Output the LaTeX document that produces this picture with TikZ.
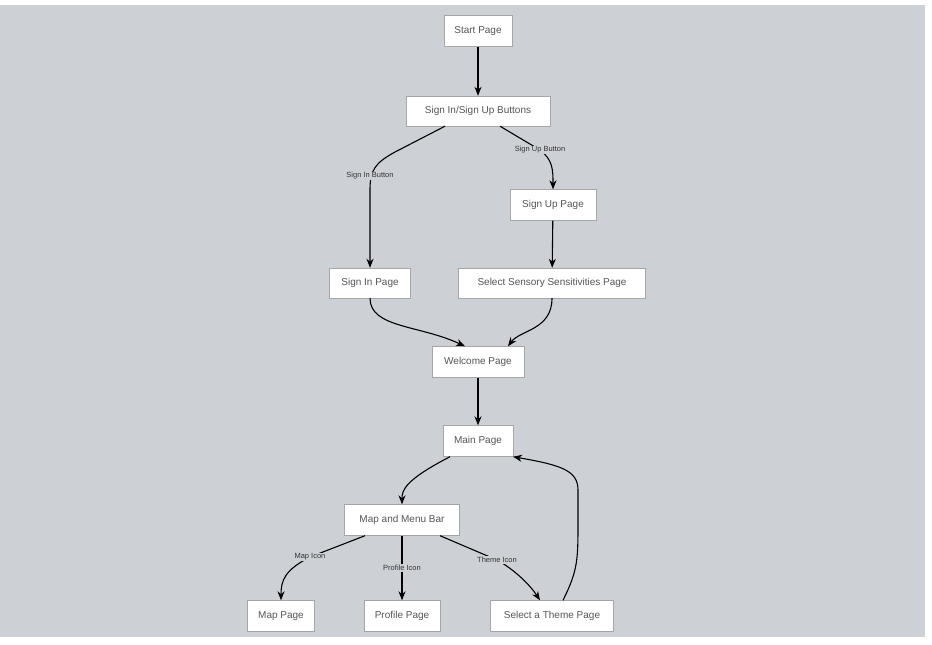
\documentclass[tikz,border=0pt]{standalone}
\usepackage{fontspec}
\setmainfont{Liberation Sans}
\usetikzlibrary{arrows.meta}
\definecolor{bg}{HTML}{CDD1D6}
\definecolor{txt}{HTML}{555555}
\begin{document}
\begin{tikzpicture}[x=1pt,y=-1pt,
  box/.style={draw=gray!70,fill=white,minimum height=31pt,inner sep=0pt,text=txt,font=\fontsize{10}{12}\selectfont},
  e/.style={draw=black,line width=1.1pt,-{Stealth[length=9pt,width=7pt]}},
  lab/.style={fill=bg,inner sep=1pt,text=black!80,font=\fontsize{7.5}{9}\selectfont}]
\useasboundingbox (0,0) rectangle (932,645);
\fill[bg] (0,5) rectangle (925,637);
\node[box,minimum width=68pt] (start) at (478,31) {Start Page};
\node[box,minimum width=144pt,minimum height=30pt] (btn) at (478,111) {Sign In/Sign Up Buttons};
\node[box,minimum width=86pt] (sup) at (553,205) {Sign Up Page};
\node[box,minimum width=81pt,minimum height=30pt] (sin) at (370,283) {Sign In Page};
\node[box,minimum width=187pt,minimum height=30pt] (sens) at (552,283) {Select Sensory Sensitivities Page};
\node[box,minimum width=92pt] (wel) at (478,362) {Welcome Page};
\node[box,minimum width=70pt] (main) at (478,441) {Main Page};
\node[box,minimum width=115pt] (bar) at (402,520) {Map and Menu Bar};
\node[box,minimum width=67pt] (map) at (281,616) {Map Page};
\node[box,minimum width=76pt] (prof) at (402,616) {Profile Page};
\node[box,minimum width=123pt] (theme) at (552,616) {Select a Theme Page};
\coordinate (c1) at (370,176);
\coordinate (c2) at (540,150);
\coordinate (c3) at (310,557);
\coordinate (c4) at (497,560);
\draw[e] (start) -- (btn);
\draw[e] (btn.south) ++(-33,0) -- (395,152) .. controls (375,163) and (370,170) .. (370,190) -- (sin.north);
\node[lab] at (c1) {Sign In Button};
\draw[e] (btn.south) ++(22,0) -- (c2) .. controls (553,160) and (553,170) .. (sup.north);
\node[lab] at (c2) {Sign Up Button};
\draw[e] (sup) -- (sens);
\draw[e] (sin.south) .. controls (370,328) and (420,325) .. ([xshift=-13pt]wel.north);
\draw[e] (sens.south) .. controls (552,330) and (520,330) .. ([xshift=30pt]wel.north);
\draw[e] (wel) -- (main);
\draw[e] ([xshift=-28pt]main.south) .. controls (405,480) and (402,490) .. (bar.north);
\draw[e] ([xshift=-37pt]bar.south) -- (c3) .. controls (285,570) and (281,580) .. (map.north);
\node[lab] at (c3) {Map Icon};
\draw[e] (bar.south) -- (prof.north);
\node[lab] at (402,568) {Profile Icon};
\draw[e] ([xshift=38pt]bar.south) -- (c4) .. controls (515,570) and (530,585) .. ([xshift=-12pt]theme.north);
\node[lab] at (c4) {Theme Icon};
\draw[e] ([xshift=11pt]theme.north) .. controls (578,570) and (578,560) .. (578,520) -- (578,490) .. controls (578,470) and (560,465) .. ([xshift=35pt]main.south);
\end{tikzpicture}
\end{document}
